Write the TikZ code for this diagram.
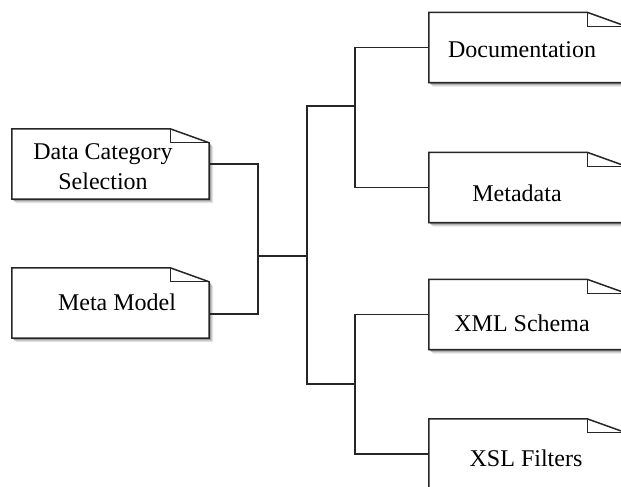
\documentclass[tikz,border=0pt]{standalone}
\usepackage{fontspec}
\setmainfont{Liberation Serif}
\begin{document}
\begin{tikzpicture}[x=1pt,y=-1pt,
  docbox/.style={minimum width=197pt,minimum height=70pt,inner sep=0pt,draw=none},
  lbl/.style={font=\fontsize{24}{30}\selectfont,inner sep=0pt,anchor=base,align=center},
  conn/.style={line width=1.1pt,draw=black!85}]
\clip (0,0) rectangle (621,487);
\fill[white] (0,0) rectangle (621,487);
% boxes
\node[docbox] (dcs)  at (110.5,164) {};
\node[docbox] (mm)   at (110.5,303) {};
\node[docbox] (doc)  at (527.5,47.5) {};
\node[docbox] (meta) at (527.5,187.5) {};
\node[docbox] (xml)  at (527.5,314.5) {};
\node[docbox] (xsl)  at (527.5,454) {};
\foreach \n in {dcs,mm,doc,meta,xml,xsl}{
  \foreach \s/\c in {4/10,3/20,2/35,1/55}{
    \fill[black!\c] ([shift={(\s,\s)}]\n.south west) -- ([shift={(\s,\s)}]\n.north west) -- ([shift={(\s-39,\s)}]\n.north east) -- ([shift={(\s,\s+14)}]\n.north east) -- ([shift={(\s,\s)}]\n.south east) -- cycle;
  }
  \draw[fill=white,line width=1.5pt,draw=black!85] (\n.south west) -- (\n.north west) -- ([xshift=-39]\n.north east) -- ([yshift=-14]\n.north east) -- (\n.south east) -- cycle;
  \draw[line width=1.1pt,draw=black!85] ([xshift=-39]\n.north east) |- ([yshift=-14]\n.north east);
}
% texts
\node[lbl] (dcsT)  at (103,189) {Data Category\\Selection};
\node[lbl] (mmT)   at (117,310) {Meta Model};
\node[lbl] (docT)  at (522,58)  {Documentation};
\node[lbl] (metaT) at (517,201) {Metadata};
\node[lbl] (xmlT)  at (522,331) {XML Schema};
\node[lbl] (xslT)  at (526,466) {XSL Filters};
% junctions
\coordinate (jL) at (258,256);
\coordinate (jM) at (307,256);
\coordinate (jT) at (355,106);
\coordinate (jB) at (355,384);
\coordinate (mmP) at ([yshift=-11]mm.east);
\draw[conn] (dcs.east) -| (jL) |- (mmP);
\draw[conn] (jL) -- (jM);
\draw[conn] (jT) -- (jT -| jM) -- (jB -| jM) -- (jB);
\draw[conn] (doc.west) -| (jT) |- (meta.west);
\draw[conn] (xml.west) -| (jB) |- (xsl.west);
\end{tikzpicture}
\end{document}
